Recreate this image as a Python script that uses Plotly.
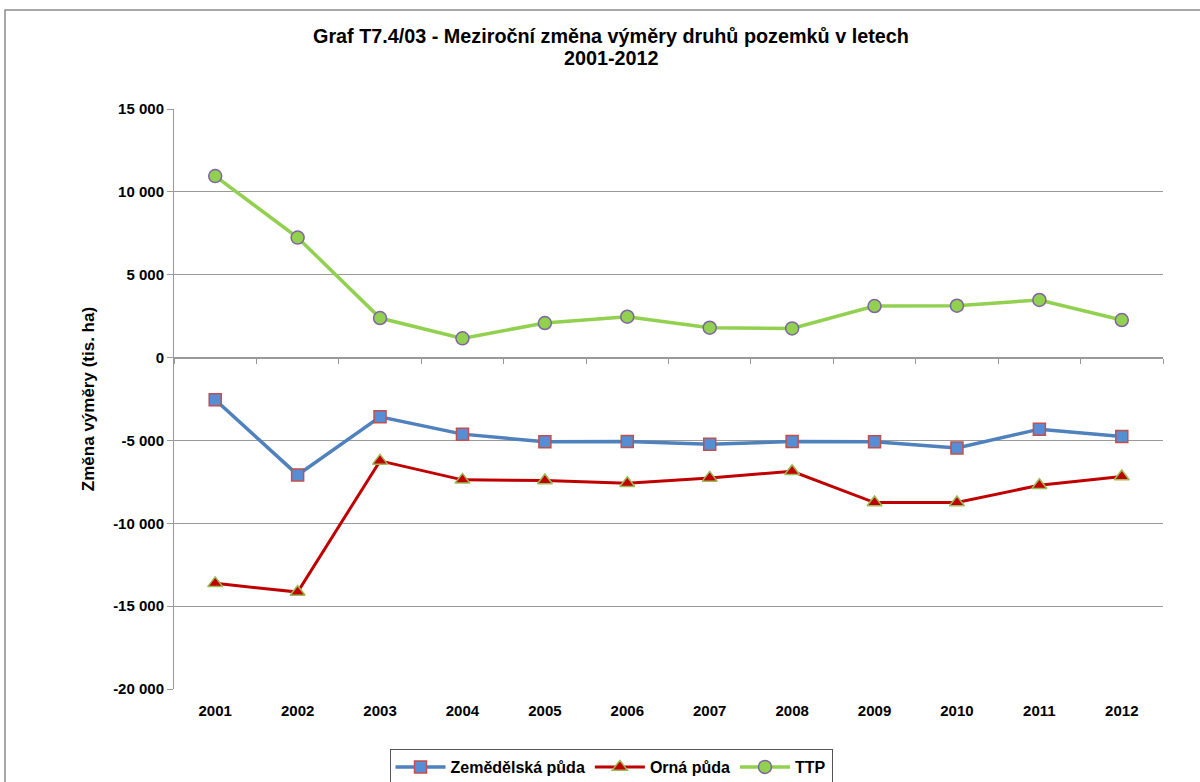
import plotly.graph_objects as go

years = ["2001", "2002", "2003", "2004", "2005", "2006", "2007", "2008", "2009", "2010", "2011", "2012"]
zemedelska = [-2550, -7080, -3575, -4620, -5085, -5065, -5225, -5065, -5085, -5450, -4320, -4760]
orna = [-13625, -14150, -6235, -7380, -7420, -7580, -7260, -6860, -8750, -8750, -7700, -7180]
ttp = [10950, 7240, 2385, 1160, 2085, 2465, 1800, 1760, 3110, 3130, 3475, 2265]

y_tickvals = [-20000, -15000, -10000, -5000, 0, 5000, 10000, 15000]
y_ticktext = ["-20 000", "-15 000", "-10 000", "-5 000", "0", "5 000", "10 000", "15 000"]

FONT = "Arial, Liberation Sans, sans-serif"

fig = go.Figure()
fig.add_trace(go.Scatter(
    x=years, y=zemedelska, name="<b>Zemědělská půda</b>", mode="lines+markers",
    line=dict(color="#4F81BD", width=3.5),
    marker=dict(symbol="square", size=12, color="#558ED5", line=dict(color="#C0504D", width=1.5)),
))
fig.add_trace(go.Scatter(
    x=years, y=orna, name="<b>Orná půda</b>", mode="lines+markers",
    line=dict(color="#C00000", width=3),
    marker=dict(symbol="triangle-up", size=13, color="#C00000", line=dict(color="#9BBB59", width=1.5)),
))
fig.add_trace(go.Scatter(
    x=years, y=ttp, name="<b>TTP</b>", mode="lines+markers",
    line=dict(color="#92D050", width=3.5),
    marker=dict(symbol="circle", size=13, color="#92D050", line=dict(color="#8064A2", width=1.5)),
))
fig.add_trace(go.Scatter(x=[], y=[], xaxis="x2", yaxis="y", showlegend=False, hoverinfo="skip"))

L, R, T, B = 174, 37, 109, 93
W, H = 1200, 782
pw, ph = W - L - R, H - T - B

def px_to_paper_x(px):
    return (px - L) / pw

def px_to_paper_y(py):
    return (H - B - py) / ph

fig.update_layout(
    width=W, height=H,
    margin=dict(l=L, r=R, t=T, b=B, autoexpand=False),
    paper_bgcolor="white", plot_bgcolor="white",
    font=dict(family=FONT, color="black"),
    xaxis=dict(
        type="category", showgrid=False, showline=False,
        ticks="outside", ticklen=8, tickcolor="rgba(0,0,0,0)",
        tickfont=dict(size=15, family=FONT, color="black"),
        tickprefix="<b>", ticksuffix="</b>",
        range=[-0.5, 11.5], fixedrange=True, automargin=False,
    ),
    xaxis2=dict(
        overlaying="x", anchor="free",
        position=(0 - (-20000)) / 35000,
        type="linear", range=[-0.5, 11.5],
        tick0=-0.5, dtick=1,
        ticks="outside", ticklen=5, tickcolor="#999999", tickwidth=1,
        showticklabels=False, showgrid=False,
        showline=True, linecolor="#999999", linewidth=1,
        zeroline=False, automargin=False,
    ),
    yaxis=dict(
        range=[-20000, 15000],
        tickvals=y_tickvals, ticktext=["<b>" + t + "</b>" for t in y_ticktext],
        tickfont=dict(size=15, family=FONT, color="black"),
        ticks="outside", ticklen=6, tickcolor="#999999",
        showline=True, linecolor="#999999", linewidth=1,
        showgrid=True, gridcolor="#999999", gridwidth=1,
        zeroline=False, automargin=False,
        title=dict(text="<b>Změna výměry (tis. ha)</b>", font=dict(size=17, family=FONT, color="black"), standoff=14),
    ),
    legend=dict(
        orientation="h",
        x=(611 - L) / pw, xanchor="center",
        y=px_to_paper_y(749), yanchor="top",
        bordercolor="#555555", borderwidth=1,
        font=dict(size=16, family=FONT, color="black"),
        itemwidth=50,
    ),
    showlegend=True,
    annotations=[
        dict(text="<b>Graf T7.4/03 - Meziroční změna výměry druhů pozemků v letech</b>",
             xref="paper", yref="paper", x=px_to_paper_x(611), y=px_to_paper_y(36),
             xanchor="center", yanchor="middle", showarrow=False,
             font=dict(size=19.8, family=FONT, color="black")),
        dict(text="<b>2001-2012</b>",
             xref="paper", yref="paper", x=px_to_paper_x(611), y=px_to_paper_y(58),
             xanchor="center", yanchor="middle", showarrow=False,
             font=dict(size=19.8, family=FONT, color="black")),
    ],
    shapes=[
        dict(type="rect", xref="paper", yref="paper",
             x0=px_to_paper_x(5), x1=px_to_paper_x(1215),
             y0=px_to_paper_y(800), y1=px_to_paper_y(10),
             line=dict(color="#8C8C8C", width=1.5), fillcolor="rgba(0,0,0,0)", layer="below"),
    ],
)

fig.write_html("out.html", config={"displayModeBar": False},
               post_script="document.body.style.margin='0';document.body.style.overflow='hidden';")
